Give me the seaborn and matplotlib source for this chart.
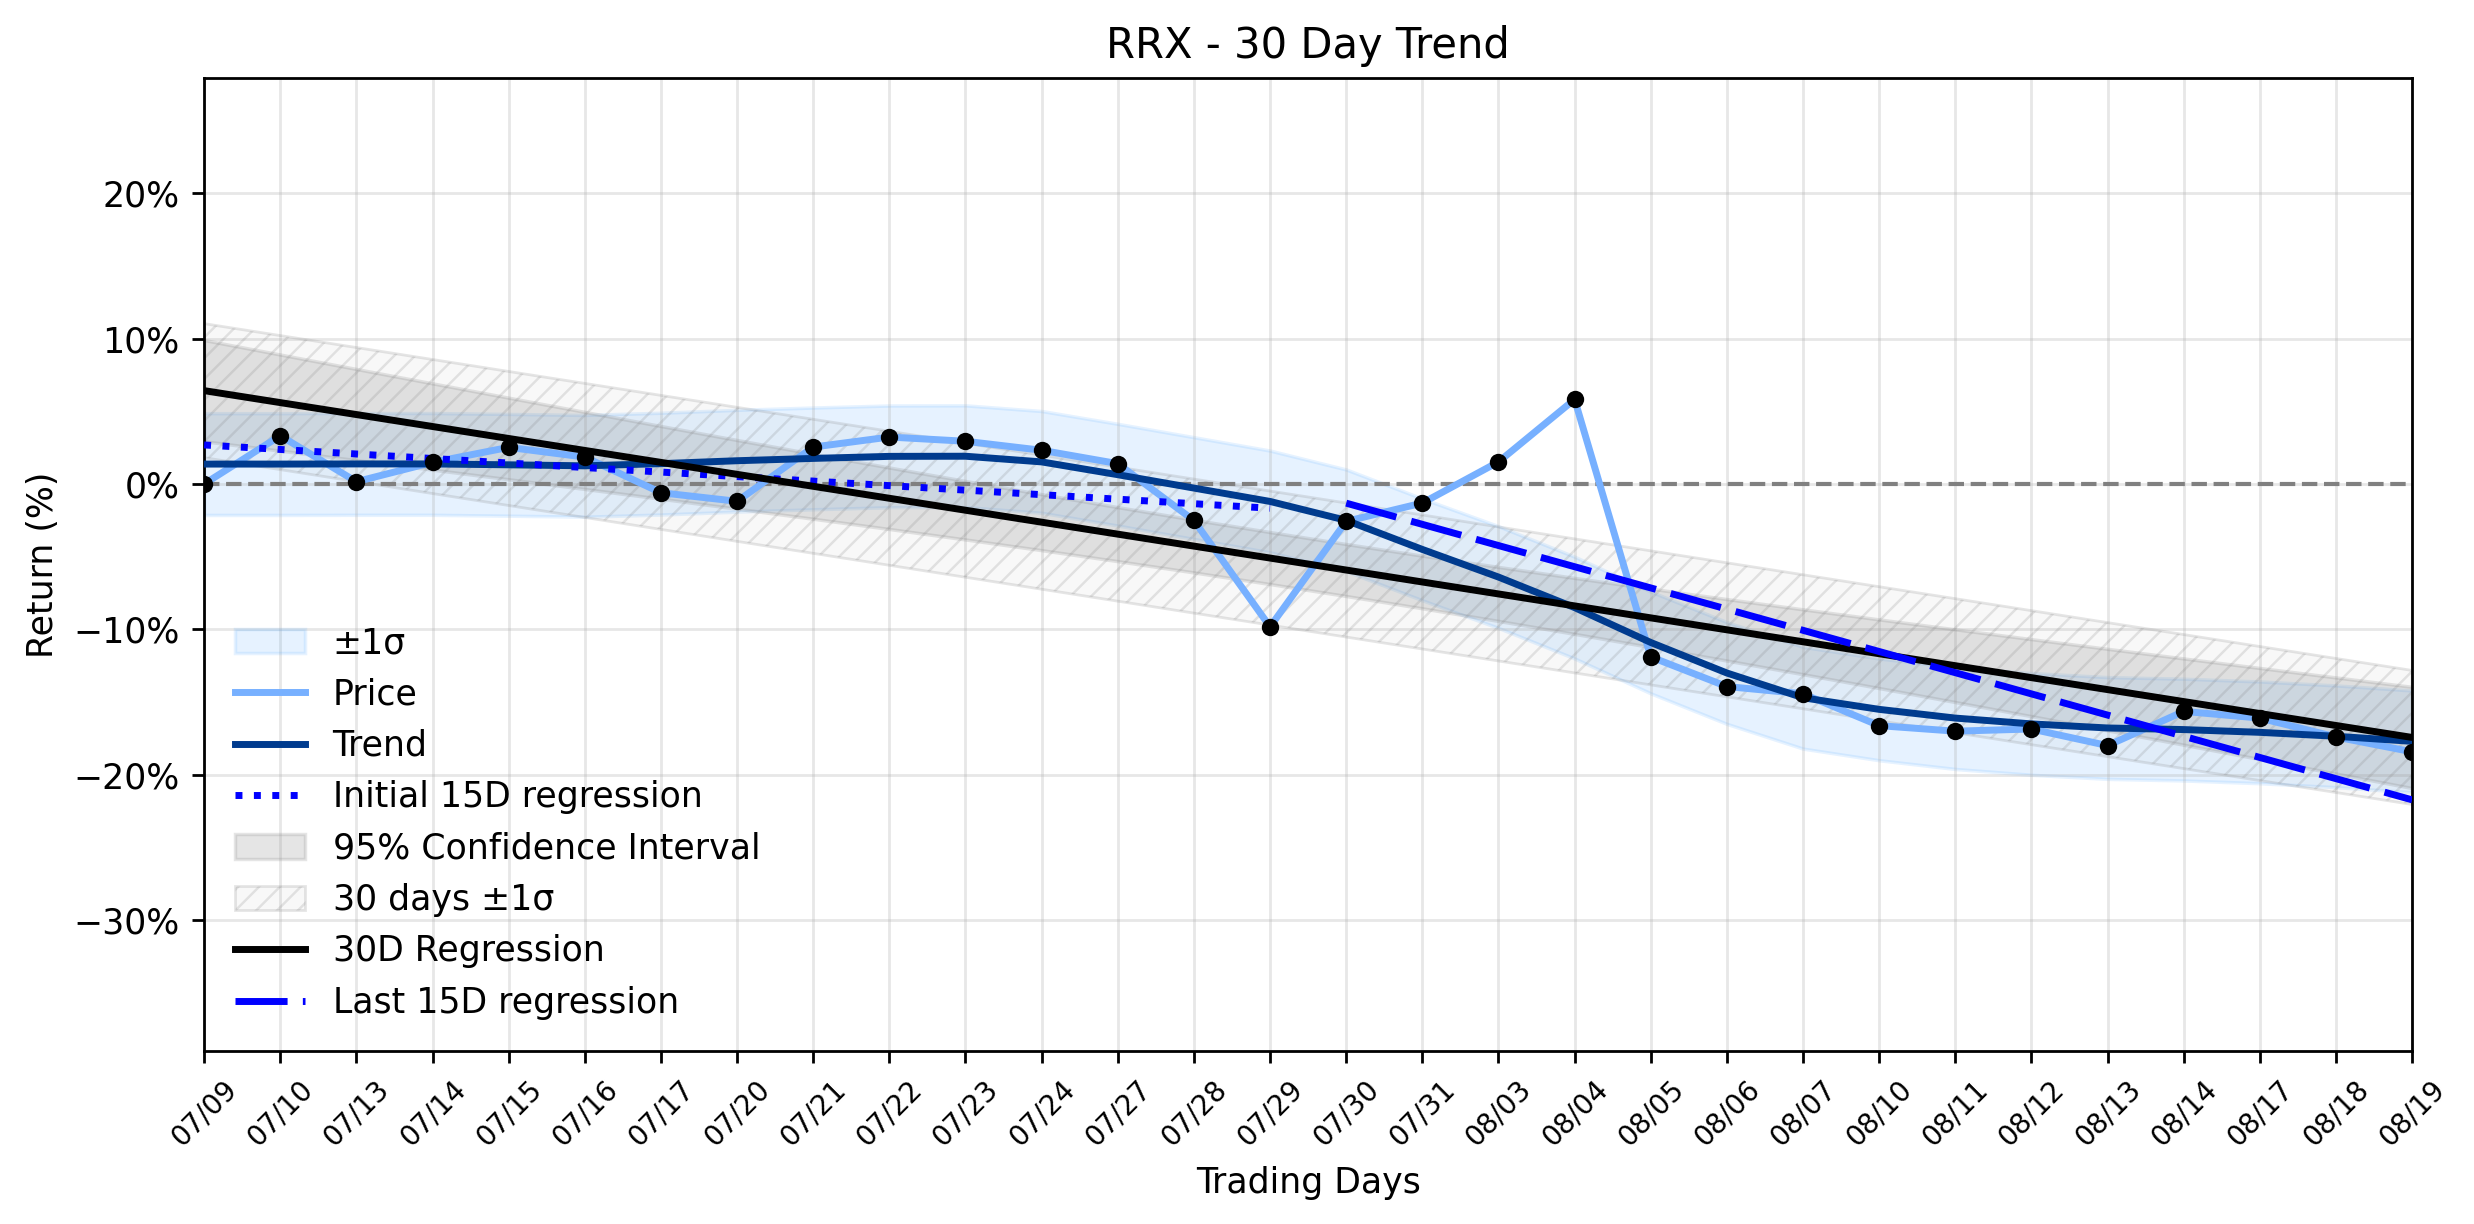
import numpy as np
import pandas as pd
import matplotlib
matplotlib.use("Agg")
import matplotlib.pyplot as plt
import seaborn as sns
from matplotlib.ticker import PercentFormatter, MultipleLocator

# ---------------- data ----------------
dates = ["07/09", "07/10", "07/13", "07/14", "07/15", "07/16", "07/17", "07/20",
         "07/21", "07/22", "07/23", "07/24", "07/27", "07/28", "07/29", "07/30",
         "07/31", "08/03", "08/04", "08/05", "08/06", "08/07", "08/10", "08/11",
         "08/12", "08/13", "08/14", "08/17", "08/18", "08/19"]
price = [0.0, 3.32, 0.16, 1.49, 2.52, 1.85, -0.60, -1.19, 2.54, 3.23,
         2.94, 2.32, 1.40, -2.51, -9.82, -2.57, -1.31, 1.52, 5.82, -11.89,
         -13.93, -14.43, -16.62, -17.00, -16.85, -17.99, -15.64, -16.10, -17.40, -18.42]
trend = [1.37, 1.37, 1.38, 1.38, 1.32, 1.25, 1.40, 1.60, 1.76, 1.90,
         1.91, 1.52, 0.64, -0.28, -1.20, -2.50, -4.50, -6.40, -8.50, -10.90,
         -13.00, -14.70, -15.50, -16.10, -16.50, -16.78, -16.89, -17.08, -17.35, -17.70]
trend_sigma = 3.5          # half width of the light-blue band (%)
t_95 = 2.048               # t value used for the 95% confidence band
title = "RRX - 30 Day Trend"

# ---------------- derived quantities ----------------
x = np.arange(len(dates))
price_a = np.array(price)
trend_a = np.array(trend)
df = pd.DataFrame({"x": x, "price": price_a, "trend": trend_a})

n = len(x)
b30, a30 = np.polyfit(x, price_a, 1)
reg30 = a30 + b30 * x
resid = price_a - reg30
s_res = np.sqrt(np.sum(resid ** 2) / (n - 2))
sxx = np.sum((x - x.mean()) ** 2)
ci = t_95 * s_res * np.sqrt(1.0 / n + (x - x.mean()) ** 2 / sxx)
sd30 = np.std(resid)

xi = x[:15]
bi, ai = np.polyfit(xi, price_a[:15], 1)
xl = x[15:]
bl, al = np.polyfit(xl, price_a[15:], 1)

# ---------------- plot ----------------
plt.rcParams["hatch.linewidth"] = 0.7
fig = plt.figure(figsize=(9.896, 4.896), dpi=250)
ax = fig.add_axes([0.0825, 0.1413, 0.8925, 0.7947])

ax.fill_between(x, trend_a - trend_sigma, trend_a + trend_sigma,
                color=(0.118, 0.565, 1.0), alpha=0.11, linewidth=1, label="±1σ", zorder=1)
sns.lineplot(data=df, x="x", y="price", color="#77B0FF", linewidth=2,
             label="Price", ax=ax, zorder=3)
sns.lineplot(data=df, x="x", y="trend", color="#003B8E", linewidth=2,
             label="Trend", ax=ax, zorder=3)
sns.lineplot(x=xi, y=ai + bi * xi, color="blue", linewidth=2, linestyle=":",
             label="Initial 15D regression", ax=ax, zorder=3)
ax.fill_between(x, reg30 - ci, reg30 + ci, color="gray", alpha=0.2,
                label="95% Confidence Interval", zorder=2)
ax.fill_between(x, reg30 - sd30, reg30 + sd30, facecolor=(0.5, 0.5, 0.5, 0.05),
                edgecolor=(0.5, 0.5, 0.5, 0.2), hatch="////", linewidth=0.8,
                label="30 days ±1σ", zorder=2)
sns.lineplot(x=x, y=reg30, color="black", linewidth=2,
             label="30D Regression", ax=ax, zorder=3)
sns.lineplot(x=xl, y=al + bl * xl, color="blue", linewidth=2,
             label="Last 15D regression", ax=ax, zorder=3)
ax.lines[-1].set_linestyle((0, (7.5, 2.2)))
ax.axhline(0, color="gray", linestyle="--", linewidth=1.2, zorder=2)
sns.scatterplot(data=df, x="x", y="price", color="black", s=25,
                linewidth=0, ax=ax, zorder=5)

ax.set_xlim(0, n - 1)
ax.set_ylim(-39.0, 27.9)
ax.set_xticks(x)
ax.set_xticklabels(dates, rotation=45, fontsize=8)
ax.yaxis.set_major_locator(MultipleLocator(10))
ax.yaxis.set_major_formatter(PercentFormatter(decimals=0))
ax.tick_params(axis="y", labelsize=10)
ax.grid(True, alpha=0.3)
ax.set_xlabel("Trading Days", fontsize=10)
ax.set_ylabel("Return (%)", fontsize=10)
ax.set_title(title, fontsize=12)

order = ["±1σ", "Price", "Trend", "Initial 15D regression", "95% Confidence Interval",
         "30 days ±1σ", "30D Regression", "Last 15D regression"]
handles, labels = ax.get_legend_handles_labels()
hmap = dict(zip(labels, handles))
ax.legend([hmap[k] for k in order], order, loc="lower left", frameon=False, fontsize=10)

fig.savefig("out.png", dpi=250)
